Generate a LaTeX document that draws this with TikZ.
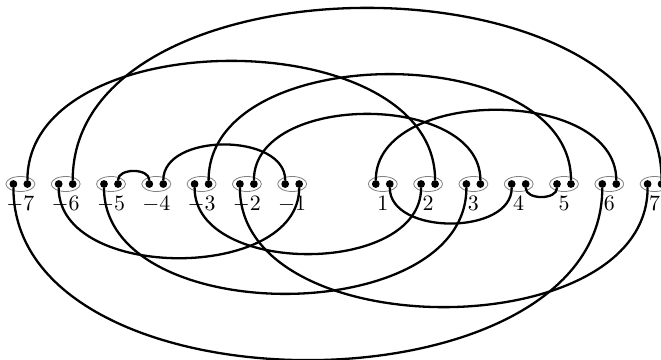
\documentclass[tikz,border=0pt]{standalone}
\usepackage{tikz}
\usetikzlibrary{shapes.geometric, positioning}

\begin{document}
\begin{tikzpicture}
        [node distance=8.15pt,
        vertex/.style={ellipse, draw=gray, thin, minimum width=14.5pt, minimum height=7.5pt, inner sep=0pt, outer sep=0pt},
        dot/.style={circle, fill=black, minimum size=3.9pt, inner sep=0pt, outer sep=0pt},
        arcup/.style={out=90, in=90, line width=1.15pt},
        arcdown/.style={out=-90, in=-90, line width=1.15pt},
        every label/.style={font=\fontsize{11}{13}\selectfont, label distance=-1.3pt}]
        \useasboundingbox (0,0) rectangle (330.5pt,180pt);

        % vertices
        \node[vertex, label=below:$-7$]  (m7)  at (10.2pt,88pt) {};
        \node[vertex, label=below:$-6$]  (m6)  [right = of m7] {};
        \node[vertex, label=below:$-5$]  (m5)  [right = of m6] {};
        \node[vertex, label=below:$-4$]  (m4)  [right = of m5] {};
        \node[vertex, label=below:$-3$]  (m3)  [right = of m4] {};
        \node[vertex, label=below:$-2$]  (m2)  [right = of m3] {};
        \node[vertex, label=below:$-1$]  (m1)  [right = of m2] {};
        \node[vertex, label=below:$1$]   (p1)  [right = 30.8pt of m1] {};
        \node[vertex, label=below:$2$]   (p2)  [right = of p1] {};
        \node[vertex, label=below:$3$]   (p3)  [right = of p2] {};
        \node[vertex, label=below:$4$]   (p4)  [right = of p3] {};
        \node[vertex, label=below:$5$]   (p5)  [right = of p4] {};
        \node[vertex, label=below:$6$]   (p6)  [right = of p5] {};
        \node[vertex, label=below:$7$]   (p7)  [right = of p6] {};

        % ends
        \node[dot]  (m7l)  [left = 1.55pt of m7.center] {};
        \node[dot]  (m7r)  [right = 1.55pt of m7.center] {};
        \node[dot]  (m6l)  [left = 1.55pt of m6.center] {};
        \node[dot]  (m6r)  [right = 1.55pt of m6.center] {};
        \node[dot]  (m5l)  [left = 1.55pt of m5.center] {};
        \node[dot]  (m5r)  [right = 1.55pt of m5.center] {};
        \node[dot]  (m4l)  [left = 1.55pt of m4.center] {};
        \node[dot]  (m4r)  [right = 1.55pt of m4.center] {};
        \node[dot]  (m3l)  [left = 1.55pt of m3.center] {};
        \node[dot]  (m3r)  [right = 1.55pt of m3.center] {};
        \node[dot]  (m2l)  [left = 1.55pt of m2.center] {};
        \node[dot]  (m2r)  [right = 1.55pt of m2.center] {};
        \node[dot]  (m1l)  [left = 1.55pt of m1.center] {};
        \node[dot]  (m1r)  [right = 1.55pt of m1.center] {};
        \node[dot]  (p1l)  [left = 1.55pt of p1.center] {};
        \node[dot]  (p1r)  [right = 1.55pt of p1.center] {};
        \node[dot]  (p2l)  [left = 1.55pt of p2.center] {};
        \node[dot]  (p2r)  [right = 1.55pt of p2.center] {};
        \node[dot]  (p3l)  [left = 1.55pt of p3.center] {};
        \node[dot]  (p3r)  [right = 1.55pt of p3.center] {};
        \node[dot]  (p4l)  [left = 1.55pt of p4.center] {};
        \node[dot]  (p4r)  [right = 1.55pt of p4.center] {};
        \node[dot]  (p5l)  [left = 1.55pt of p5.center] {};
        \node[dot]  (p5r)  [right = 1.55pt of p5.center] {};
        \node[dot]  (p6l)  [left = 1.55pt of p6.center] {};
        \node[dot]  (p6r)  [right = 1.55pt of p6.center] {};
        \node[dot]  (p7l)  [left = 1.55pt of p7.center] {};
        \node[dot]  (p7r)  [right = 1.55pt of p7.center] {};

        \path (m6r) edge [arcup]     (p7r)
              (m7r) edge [arcup]     (p2r)
              (m3r) edge [arcup]     (p5r)
              (m2r) edge [arcup]     (p3r)
              (p1l) edge [arcup]     (p6r)
              (m5r) edge [arcup]     (m4l)
              (m4r) edge [arcup]     (m1l)
              (m7l) edge [arcdown]   (p6l)
              (m6l) edge [arcdown]   (m1r)
              (m5l) edge [arcdown]   (p3l)
              (m3l) edge [arcdown]   (p2l)
              (m2l) edge [arcdown]   (p7l)
              (p1r) edge [arcdown]   (p4l)
              (p4r) edge [arcdown]   (p5l);
\end{tikzpicture}
\end{document}
